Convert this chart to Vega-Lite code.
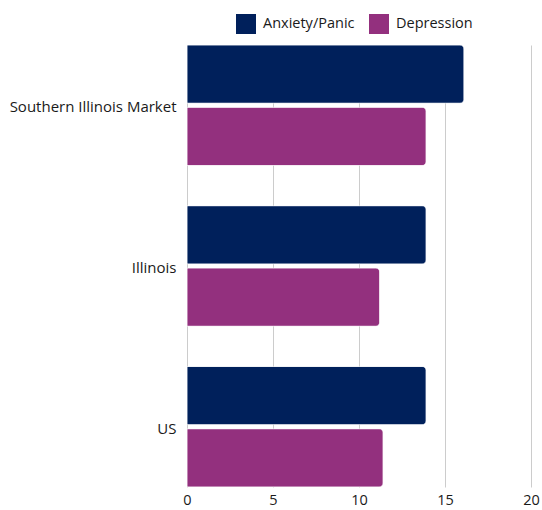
{
  "$schema": "https://vega.github.io/schema/vega-lite/v6.json",
  "width": 344,
  "height": 442,
  "autosize": {"type": "none"},
  "padding": {"left": 187, "top": 45, "right": 11, "bottom": 23},
  "background": "white",
  "config": {
    "view": {"stroke": null},
    "font": "Open Sans"
  },
  "data": {
    "values": [
      {"region": "Southern Illinois Market", "measure": "Anxiety/Panic", "value": 16.1},
      {"region": "Southern Illinois Market", "measure": "Depression", "value": 13.9},
      {"region": "Illinois", "measure": "Anxiety/Panic", "value": 13.9},
      {"region": "Illinois", "measure": "Depression", "value": 11.2},
      {"region": "US", "measure": "Anxiety/Panic", "value": 13.9},
      {"region": "US", "measure": "Depression", "value": 11.4}
    ]
  },
  "mark": {"type": "bar", "cornerRadiusEnd": 4, "stroke": "white", "strokeWidth": 0.5},
  "encoding": {
    "y": {
      "field": "region",
      "type": "nominal",
      "sort": ["Southern Illinois Market", "Illinois", "US"],
      "scale": {"paddingInner": 0.25, "paddingOuter": 0},
      "axis": {
        "title": null,
        "ticks": false,
        "domain": false,
        "labelFontSize": 15,
        "labelColor": "#1a1a1a",
        "labelPadding": 11,
        "labelLimit": 300,
        "labelOffset": 2
      }
    },
    "yOffset": {
      "field": "measure",
      "type": "nominal",
      "sort": ["Anxiety/Panic", "Depression"],
      "scale": {"paddingInner": 0.065, "paddingOuter": 0}
    },
    "x": {
      "field": "value",
      "type": "quantitative",
      "scale": {"domain": [0, 20], "nice": false},
      "axis": {
        "title": null,
        "values": [0, 5, 10, 15, 20],
        "ticks": false,
        "domain": false,
        "grid": true,
        "gridColor": "#cccccc",
        "gridWidth": 1,
        "labelFlush": false,
        "labelFontSize": 14.5,
        "labelColor": "#1a1a1a",
        "labelPadding": 6
      }
    },
    "color": {
      "field": "measure",
      "type": "nominal",
      "sort": ["Anxiety/Panic", "Depression"],
      "scale": {"domain": ["Anxiety/Panic", "Depression"], "range": ["#00205B", "#93307E"]},
      "legend": {
        "title": null,
        "orient": "none",
        "direction": "horizontal",
        "legendX": 49,
        "legendY": -31,
        "symbolType": "square",
        "symbolSize": 400,
        "symbolStrokeWidth": 0,
        "labelFontSize": 14.5,
        "labelColor": "#1a1a1a",
        "columnPadding": 14,
        "labelOffset": 7
      }
    }
  }
}
